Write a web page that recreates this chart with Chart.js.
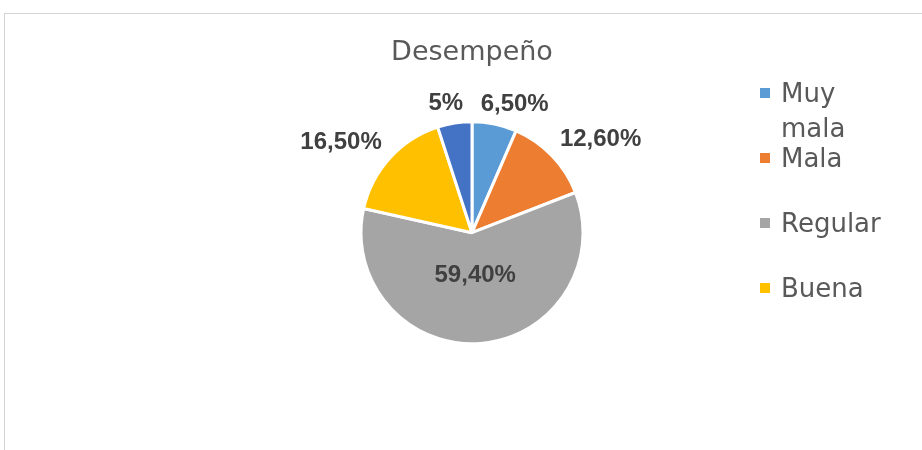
<!DOCTYPE html>
<html><head><meta charset="utf-8">
<script src="https://cdn.jsdelivr.net/npm/chart.js@4"></script>
<style>
html,body{margin:0;padding:0;background:#fff;}
#wrap{position:relative;width:922px;height:450px;overflow:hidden;background:#fff;}
#frame{position:absolute;left:4px;top:13px;right:-4px;bottom:-4px;border-left:1px solid #d4d4d4;border-top:1px solid #d4d4d4;}
canvas{position:absolute;left:0;top:0;}
</style></head><body>
<div id="wrap"><div id="frame"></div><canvas id="c" width="922" height="450"></canvas></div>
<script>
const chartTitle = 'Desempeño';
const categories = ['Muy mala', 'Mala', 'Regular', 'Buena', 'Muy buena'];
const values = [6.5, 12.6, 59.4, 16.5, 5];
const valueLabels = ['6,50%', '12,60%', '59,40%', '16,50%', '5%'];
const colors = ['#5B9BD5', '#ED7D31', '#A5A5A5', '#FFC000', '#4472C4'];
const legendShown = [true, true, true, true, false];

const clamp = v => Math.max(-1, Math.min(1, v));

const labelPlugin = {
  id: 'valueLabels',
  afterDatasetsDraw(chart) {
    const ctx = chart.ctx;
    const meta = chart.getDatasetMeta(0);
    ctx.save();
    ctx.font = 'bold 24px "Liberation Sans", Arial, sans-serif';
    ctx.fillStyle = '#404040';
    ctx.textAlign = 'center';
    ctx.textBaseline = 'middle';
    meta.data.forEach((arc, i) => {
      const p = arc.getProps(['x', 'y', 'startAngle', 'endAngle', 'outerRadius'], true);
      const m = (p.startAngle + p.endAngle) / 2;
      const r = p.outerRadius - 1.5;
      const text = valueLabels[i];
      const w = ctx.measureText(text).width;
      const h = 17;
      let cx, cy;
      if (values[i] > 30) {
        cx = p.x + Math.cos(m) * r * 0.39;
        cy = p.y + Math.sin(m) * r * 0.39;
      } else {
        const R = r + 12.5;
        const fx = clamp(2.6 * Math.cos(m));
        const fy = clamp(2.6 * Math.sin(m));
        cx = p.x + R * Math.cos(m) + fx * w / 2;
        cy = p.y + R * Math.sin(m) + fy * h / 2;
      }
      ctx.fillText(text, cx, cy);
    });
    ctx.restore();
  }
};

const legendPlugin = {
  id: 'sideLegend',
  afterDraw(chart) {
    const ctx = chart.ctx;
    ctx.save();
    ctx.font = '26px "DejaVu Sans", sans-serif';
    ctx.textBaseline = 'alphabetic';
    ctx.textAlign = 'left';
    const maxW = 115;
    let k = 0;
    categories.forEach((name, i) => {
      if (!legendShown[i]) return;
      const base = 102 + 65 * k;
      ctx.fillStyle = colors[i];
      ctx.fillRect(760, base - 14, 10, 10);
      // wrap words
      const words = name.split(' ');
      const lines = [];
      let cur = '';
      words.forEach(wd => {
        const t = cur ? cur + ' ' + wd : wd;
        if (cur && ctx.measureText(t).width > maxW) { lines.push(cur); cur = wd; }
        else cur = t;
      });
      lines.push(cur);
      ctx.fillStyle = '#595959';
      lines.forEach((ln, j) => ctx.fillText(ln, 781, base + 35 * j));
      k++;
    });
    ctx.restore();
  }
};

new Chart(document.getElementById('c'), {
  type: 'pie',
  data: {
    labels: categories,
    datasets: [{
      data: values,
      backgroundColor: colors,
      borderColor: '#ffffff',
      borderWidth: 3
    }]
  },
  options: {
    responsive: false,
    animation: false,
    radius: 111,
    layout: { padding: { left: 22, right: 0, top: 0, bottom: 54 } },
    plugins: {
      legend: { display: false },
      tooltip: { enabled: false },
      title: {
        display: true,
        text: chartTitle,
        color: '#595959',
        font: { family: '"DejaVu Sans", sans-serif', size: 27, weight: 'normal', lineHeight: 1.2 },
        padding: { top: 37, bottom: 0 }
      }
    }
  },
  plugins: [labelPlugin, legendPlugin]
});
</script>
</body></html>
